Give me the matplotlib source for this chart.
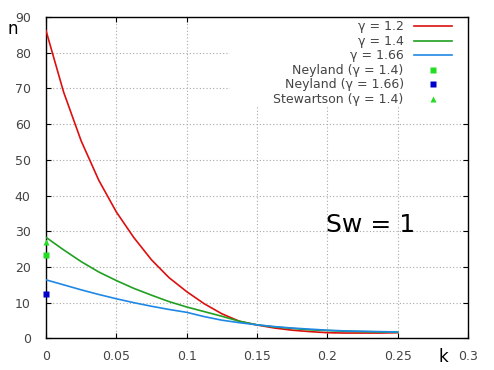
import numpy as np
import matplotlib
matplotlib.use("Agg")
import matplotlib.pyplot as plt
from matplotlib.patches import Rectangle

# ------------------------------------------------------------
# data
# ------------------------------------------------------------
k = [0, 0.0125, 0.025, 0.0375, 0.05, 0.0625, 0.075, 0.0875, 0.1, 0.1125,
     0.125, 0.1375, 0.15, 0.1625, 0.175, 0.1875, 0.2, 0.2125, 0.225, 0.2375, 0.25]
n_g12 = [86.2, 69.0, 55.3, 44.3, 35.4, 28.2, 22.0, 17.0, 13.1, 9.7,
         6.9, 4.8, 3.75, 2.9, 2.3, 1.9, 1.6, 1.5, 1.5, 1.5, 1.6]
n_g14 = [28.3, 24.8, 21.5, 18.6, 16.2, 14.0, 12.1, 10.3, 8.8, 7.5,
         6.2, 4.8, 3.8, 3.2, 2.8, 2.4, 2.2, 2.0, 1.9, 1.8, 1.7]
n_g166 = [16.4, 15.0, 13.6, 12.3, 11.1, 10.0, 9.0, 8.1, 7.3, 6.1,
          5.1, 4.4, 3.8, 3.3, 2.9, 2.6, 2.3, 2.1, 2.0, 1.9, 1.8]

neyland_14 = (0.0, 23.4)
neyland_166 = (0.0, 12.4)
stewartson_14 = (0.0, 27.1)

xticks = [0, 0.05, 0.1, 0.15, 0.2, 0.25, 0.3]
yticks = [0, 10, 20, 30, 40, 50, 60, 70, 80, 90]

red = '#dd0f0f'
green = '#20a020'
blue = '#1e88e5'

fig = plt.figure(figsize=(4.94, 3.70), dpi=100)
ax = fig.add_axes([46/494, 1 - 338.4/370, 422/494, 321.4/370])

ax.set_axisbelow(True)
ax.grid(True, linestyle=(0, (1, 2)), color='#a8a8a8', linewidth=0.8)
# gnuplot key box hides the grid behind it
ax.add_patch(Rectangle((0.436, 0.72), 0.564, 0.28, transform=ax.transAxes,
                       facecolor='white', edgecolor='none', zorder=1))

ax.plot(k, n_g12, color=red, lw=1.2, label='γ = 1.2', zorder=3)
ax.plot(k, n_g14, color=green, lw=1.2, label='γ = 1.4', zorder=3)
ax.plot(k, n_g166, color=blue, lw=1.2, label='γ = 1.66', zorder=3)
ax.plot(*neyland_14, 's', color='#22dd22', ms=4.5, mec='none',
        label='Neyland (γ = 1.4)', clip_on=False, zorder=4)
ax.plot(*neyland_166, 's', color='#0000cc', ms=4.5, mec='none',
        label='Neyland (γ = 1.66)', clip_on=False, zorder=4)
ax.plot(*stewartson_14, '^', color='#22dd22', ms=5, mec='none',
        label='Stewartson (γ = 1.4)', clip_on=False, zorder=4)

ax.set_xlim(0, 0.3)
ax.set_ylim(0, 90)
ax.set_xticks(xticks)
ax.set_yticks(yticks)
ax.set_xticklabels(['0', '0.05', '0.1', '0.15', '0.2', '0.25', '0.3'])
ax.tick_params(direction='in', length=3.5, width=0.8, top=True, right=True,
               labelsize=9, labelcolor='#444444')
ax.tick_params(axis='x', pad=8)
ax.tick_params(axis='y', pad=11)
for s in ax.spines.values():
    s.set_linewidth(1.0)

leg = ax.legend(loc='upper right', bbox_to_anchor=(0.981, 1.0125), frameon=False,
                markerfirst=False, fontsize=9, handlelength=3.1,
                labelspacing=0.12, handletextpad=0.8, borderaxespad=0.2,
                numpoints=1)
for t in leg.get_texts():
    t.set_color('#444444')

fig.text(12.5/494, 1 - 29.5/370, 'n', fontsize=12, ha='center', va='center')
fig.text(443/494, 1 - 357/370, 'k', fontsize=12, ha='center', va='center')
ax.text(0.2307, 31.75, 'Sw = 1', fontsize=18, ha='center', va='center')

fig.savefig('out.png', dpi=100)
